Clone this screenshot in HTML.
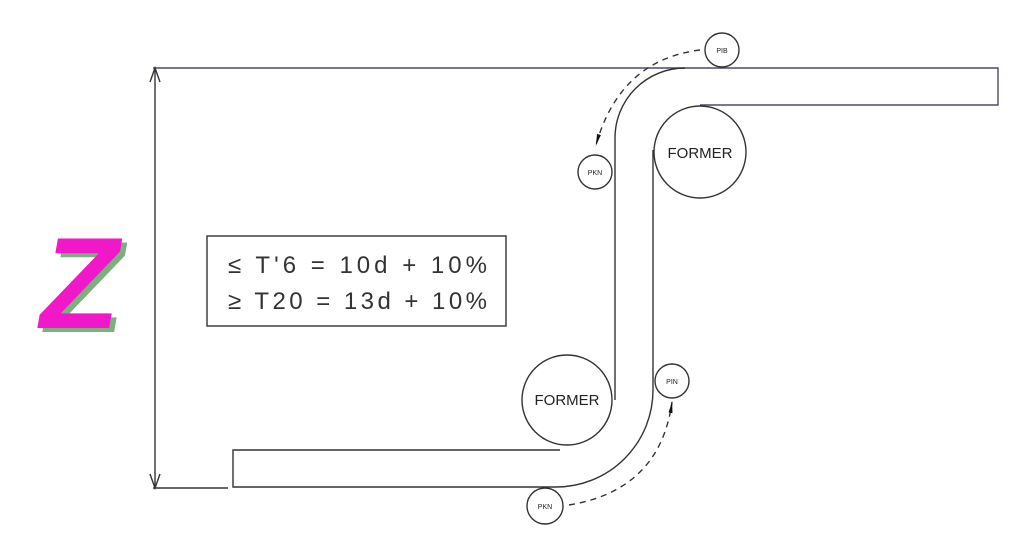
<!DOCTYPE html>
<html><head><style>body{margin:0;background:#fff}svg{display:block}</style></head><body>
<svg width="1024" height="560" viewBox="0 0 1024 560" xmlns="http://www.w3.org/2000/svg">
<rect width="1024" height="560" fill="#fff"/>
<defs><marker id="a" markerWidth="12" markerHeight="6" refX="11" refY="3" orient="auto" markerUnits="userSpaceOnUse"><path d="M0,1 L12,3 L0,5 Z" fill="#111"/></marker></defs>
<g fill="none" stroke="#333" stroke-width="1.4">
<path d="M153 68 L998 68 L998 105 L700 105" stroke="#4a4a6a"/>
<path d="M685 68 A70 70 0 0 0 615 138 L615 400"/>
<path d="M653 150 L653 390 A97 97 0 0 1 556 487 L233 487 L233 450 L560 450"/>
<line x1="155" y1="70" x2="155" y2="486"/>
<line x1="153" y1="488" x2="228" y2="488"/>
<path d="M150 82 L155 68 L160 82 M150 474 L155 488 L160 474"/>
<rect x="207" y="236" width="299" height="90"/>
<circle cx="700" cy="152" r="46" fill="#fff"/>
<circle cx="567" cy="400" r="45" fill="#fff"/>
<circle cx="722" cy="50" r="17" fill="#fff"/>
<circle cx="595" cy="172" r="17" fill="#fff"/>
<circle cx="672" cy="381" r="17" fill="#fff"/>
<circle cx="545" cy="506" r="18" fill="#fff"/>
<path d="M700 50 Q620 60 596 145" stroke-dasharray="6 5" marker-end="url(#a)"/>
<path d="M569 505 Q660 490 672 402" stroke-dasharray="6 5" marker-end="url(#a)"/>
</g>
<g font-family="Liberation Sans, sans-serif" fill="#222">
<text x="700" y="158" font-size="15" text-anchor="middle">FORMER</text>
<text x="567" y="405" font-size="15" text-anchor="middle">FORMER</text>
<text x="722" y="53" font-size="7" text-anchor="middle">PIB</text>
<text x="595" y="175" font-size="7" text-anchor="middle">PKN</text>
<text x="672" y="384" font-size="7" text-anchor="middle">PIN</text>
<text x="545" y="509" font-size="7" text-anchor="middle">PKN</text>
<text x="228" y="273" font-size="24" fill="#333" textLength="259" lengthAdjust="spacing">≤ T'6 = 10d + 10%</text>
<text x="228" y="309" font-size="24" fill="#333" textLength="259" lengthAdjust="spacing">≥ T20 = 13d + 10%</text>
</g>
<text x="76" y="328" font-family="Liberation Sans, sans-serif" font-size="130" font-weight="bold" fill="#7cb07c" text-anchor="middle" transform="translate(5,4) skewX(-10) translate(55,0)">Z</text>
<text x="76" y="328" font-family="Liberation Sans, sans-serif" font-size="130" font-weight="bold" fill="#f018c8" text-anchor="middle" transform="skewX(-10) translate(55,0)">Z</text>
</svg>
</body></html>
